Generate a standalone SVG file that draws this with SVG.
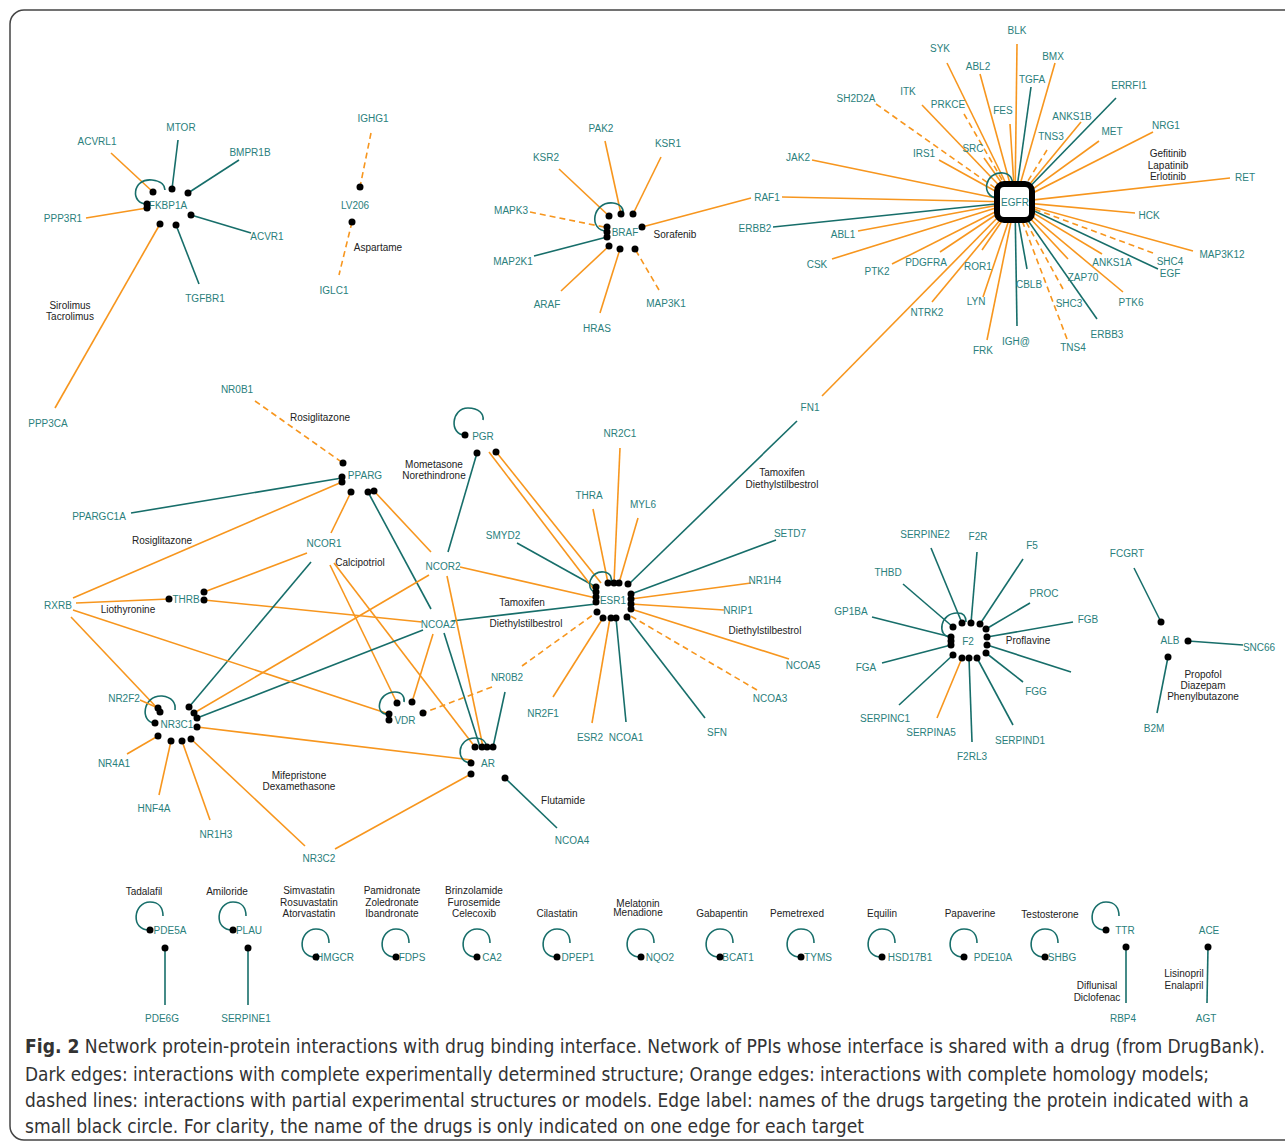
<svg xmlns="http://www.w3.org/2000/svg" xmlns:xlink="http://www.w3.org/1999/xlink" width="1285" height="1145" viewBox="0 0 1285 1145">
<style>
.n{font-family:"Liberation Sans",Arial,sans-serif;font-size:10px;fill:#2a807c;text-anchor:middle;dominant-baseline:central}
.d{font-family:"Liberation Sans",Arial,sans-serif;font-size:10px;fill:#222;text-anchor:middle;dominant-baseline:central}
.o{stroke:#f7961e;stroke-width:1.6;fill:none}
.od{stroke:#f7961e;stroke-width:1.6;fill:none;stroke-dasharray:6 4}
.t{stroke:#176e6a;stroke-width:1.6;fill:none}
.cap{font-family:"Liberation Sans Narrow","DejaVu Sans Condensed","Liberation Sans",sans-serif;font-size:19px;fill:#333}
circle{fill:#000}
</style>
<defs>
<path id="lp" d="M0,0 C-20,1 -17,-28 0,-28 C9,-28 13,-22 13,-14" class="t"/>
</defs>
<rect x="10" y="10" width="1300" height="1130" rx="14" fill="#fff" stroke="#444" stroke-width="1.5"/>

<g id="connectors">
<!-- FKBP1A -->
<line class="t" x1="178" y1="140" x2="172" y2="189"/>
<line class="o" x1="111" y1="153" x2="153" y2="192"/>
<line class="t" x1="239" y1="160" x2="188" y2="193"/>
<line class="o" x1="86" y1="218" x2="147" y2="208"/>
<line class="t" x1="251" y1="233" x2="191" y2="215"/>
<line class="t" x1="199" y1="284" x2="176" y2="225"/>
<line class="o" x1="55" y1="408" x2="160" y2="224"/>
<path class="t" d="M147,204 C130,204 132,178 152,180 C162,181 165,186 165,190"/>
<!-- IGHG1 -->
<line class="od" x1="371" y1="133" x2="360" y2="187"/>
<line class="od" x1="352" y1="222" x2="339" y2="275"/>
<!-- BRAF -->
<line class="o" x1="605" y1="141" x2="621" y2="214"/>
<line class="o" x1="661" y1="157" x2="633" y2="214"/>
<line class="o" x1="559" y1="169" x2="609" y2="216"/>
<line class="od" x1="530" y1="212" x2="604" y2="227"/>
<line class="t" x1="534" y1="256" x2="607" y2="237"/>
<line class="o" x1="561" y1="291" x2="609" y2="246"/>
<line class="o" x1="600" y1="313" x2="620" y2="249"/>
<line class="od" x1="659" y1="290" x2="635" y2="249"/>
<line class="o" x1="642" y1="227" x2="751" y2="198"/>
<path class="t" d="M607,231 C588,231 592,201 613,203 C621,204 624,209 623,214"/>
<!-- EGFR -->
<line class="o" x1="1017" y1="44" x2="1015" y2="202"/>
<line class="o" x1="947" y1="63" x2="1015" y2="202"/>
<line class="o" x1="980" y1="74" x2="1015" y2="202" stroke-width="2.4"/>
<line class="o" x1="1055" y1="63" x2="1015" y2="202" stroke-width="1.2"/>
<line class="t" x1="1031" y1="87" x2="1015" y2="202"/>
<line class="t" x1="1116" y1="98" x2="1015" y2="202"/>
<line class="od" x1="876" y1="104" x2="1015" y2="202"/>
<line class="o" x1="922" y1="105" x2="1015" y2="202"/>
<line class="od" x1="964" y1="114" x2="1015" y2="202"/>
<line class="o" x1="1010" y1="124" x2="1015" y2="202"/>
<line class="o" x1="1081" y1="122" x2="1015" y2="202"/>
<line class="od" x1="1047" y1="150" x2="1015" y2="202"/>
<line class="o" x1="1099" y1="141" x2="1015" y2="202"/>
<line class="o" x1="1153" y1="132" x2="1015" y2="202"/>
<line class="o" x1="939" y1="160" x2="1015" y2="202"/>
<line class="o" x1="984" y1="158" x2="1015" y2="202"/>
<line class="o" x1="812" y1="160" x2="1015" y2="202"/>
<line class="o" x1="1230" y1="178" x2="1015" y2="202"/>
<line class="o" x1="782" y1="197" x2="1015" y2="202"/>
<line class="t" x1="773" y1="227" x2="1015" y2="202"/>
<line class="o" x1="858" y1="231" x2="1015" y2="202"/>
<line class="o" x1="832" y1="259" x2="1015" y2="202"/>
<line class="o" x1="892" y1="264" x2="1015" y2="202"/>
<line class="o" x1="940" y1="252" x2="1015" y2="202"/>
<line class="o" x1="982" y1="250" x2="1015" y2="202"/>
<line class="o" x1="932" y1="302" x2="1015" y2="202"/>
<line class="o" x1="983" y1="297" x2="1015" y2="202"/>
<line class="o" x1="987" y1="340" x2="1015" y2="202"/>
<line class="t" x1="1017" y1="326" x2="1015" y2="202"/>
<line class="t" x1="1027" y1="269" x2="1015" y2="202"/>
<line class="od" x1="1063" y1="289" x2="1015" y2="202"/>
<line class="od" x1="1067" y1="339" x2="1015" y2="202"/>
<line class="o" x1="1068" y1="259" x2="1015" y2="202" stroke-width="2.4"/>
<line class="t" x1="1097" y1="319" x2="1015" y2="202"/>
<line class="o" x1="1123" y1="292" x2="1015" y2="202"/>
<line class="o" x1="1102" y1="254" x2="1015" y2="202"/>
<line class="od" x1="1153" y1="253" x2="1015" y2="202"/>
<line class="t" x1="1158" y1="269" x2="1015" y2="202"/>
<line class="o" x1="1193" y1="251" x2="1015" y2="202"/>
<line class="o" x1="1135" y1="213" x2="1015" y2="202"/>
<line class="o" x1="822" y1="396" x2="1005" y2="210"/>
<path class="t" d="M997,198 C980,196 985,171 1003,173 C1011,174 1013,180 1012,184"/>
<!-- ESR1 -->
<line class="o" x1="620" y1="448" x2="614" y2="583"/>
<line class="o" x1="593" y1="509" x2="608" y2="583"/>
<line class="o" x1="638" y1="518" x2="619" y2="583"/>
<line class="t" x1="517" y1="543" x2="596" y2="587"/>
<line class="o" x1="489" y1="452" x2="596" y2="592"/>
<line class="o" x1="497" y1="453" x2="601" y2="583"/>
<line class="o" x1="460" y1="567" x2="596" y2="598"/>
<line class="t" x1="452" y1="621" x2="596" y2="604"/>
<line class="t" x1="797" y1="421" x2="629" y2="584"/>
<line class="t" x1="776" y1="540" x2="631" y2="594"/>
<line class="o" x1="751" y1="583" x2="631" y2="599"/>
<line class="o" x1="724" y1="610" x2="631" y2="604"/>
<line class="o" x1="789" y1="659" x2="631" y2="609"/>
<line class="od" x1="757" y1="690" x2="629" y2="615"/>
<line class="t" x1="705" y1="718" x2="627" y2="617"/>
<line class="t" x1="626" y1="722" x2="616" y2="618"/>
<line class="o" x1="592" y1="723" x2="610" y2="618"/>
<line class="o" x1="553" y1="697" x2="603" y2="618"/>
<line class="od" x1="522" y1="666" x2="597" y2="612"/>
<path class="t" d="M596,592 C584,590 590,570 604,572 C611,573 612,578 611,582"/>
<!-- PGR -->
<path class="t" d="M465,435 C449,435 451,408 468,408 C479,408 484,414 483,420"/>
<line class="t" x1="477" y1="453" x2="448" y2="552"/>
<!-- PPARG -->
<line class="od" x1="255" y1="401" x2="343" y2="463"/>
<line class="t" x1="131" y1="513" x2="342" y2="478"/>
<line class="o" x1="73" y1="598" x2="342" y2="482"/>
<line class="o" x1="331" y1="533" x2="351" y2="492"/>
<line class="t" x1="368" y1="492" x2="431" y2="609"/>
<line class="o" x1="374" y1="491" x2="431" y2="552"/>
<!-- THRB -->
<line class="o" x1="76" y1="603" x2="169" y2="599"/>
<line class="o" x1="307" y1="553" x2="204" y2="592"/>
<line class="o" x1="204" y1="600" x2="422" y2="622"/>
<!-- NCOR1 / NCOR2 / NCOA2 -->
<line class="t" x1="311" y1="562" x2="189" y2="707"/>
<line class="o" x1="330" y1="565" x2="397" y2="703"/>
<line class="o" x1="334" y1="563" x2="475" y2="747"/>
<line class="o" x1="429" y1="575" x2="194" y2="713"/>
<line class="o" x1="447" y1="576" x2="483" y2="747"/>
<line class="t" x1="423" y1="630" x2="197" y2="718"/>
<line class="t" x1="444" y1="633" x2="480" y2="747"/>
<line class="o" x1="433" y1="634" x2="412" y2="702"/>
<!-- RXRB -->
<line class="o" x1="71" y1="617" x2="159" y2="710"/>
<line class="o" x1="73" y1="610" x2="389" y2="714"/>
<!-- NR3C1 -->
<path class="t" d="M155,723 C140,723 142,695 162,696 C172,697 176,703 175,710"/>
<line class="o" x1="140" y1="700" x2="158" y2="708"/>
<line class="o" x1="127" y1="754" x2="158" y2="736"/>
<line class="o" x1="159" y1="795" x2="171" y2="741"/>
<line class="o" x1="210" y1="820" x2="182" y2="741"/>
<line class="o" x1="305" y1="846" x2="191" y2="739"/>
<line class="o" x1="197" y1="727" x2="472" y2="760"/>
<!-- AR -->
<path class="t" d="M471,763 C455,762 457,738 475,738 C483,738 486,742 486,746"/>
<line class="o" x1="335" y1="849" x2="471" y2="774"/>
<line class="t" x1="505" y1="692" x2="493" y2="747"/>
<line class="t" x1="557" y1="828" x2="505" y2="778"/>
<!-- VDR -->
<path class="t" d="M389,714 C374,716 377,692 395,692 C402,692 405,697 404,702"/>
<line class="od" x1="492" y1="687" x2="423" y2="713"/>
<!-- F2 -->
<path class="t" d="M951,637 C936,637 940,612 958,613 C965,613 966,618 966,622"/>
<line class="t" x1="931" y1="548" x2="962" y2="623"/>
<line class="t" x1="977" y1="552" x2="971" y2="623"/>
<line class="t" x1="1023" y1="559" x2="980" y2="624"/>
<line class="t" x1="1030" y1="603" x2="986" y2="629"/>
<line class="t" x1="1073" y1="622" x2="987" y2="637"/>
<line class="t" x1="903" y1="584" x2="953" y2="627"/>
<line class="t" x1="872" y1="617" x2="951" y2="637"/>
<line class="t" x1="882" y1="663" x2="951" y2="645"/>
<line class="t" x1="1071" y1="672" x2="987" y2="645"/>
<line class="t" x1="1023" y1="682" x2="986" y2="653"/>
<line class="t" x1="899" y1="705" x2="953" y2="655"/>
<line class="o" x1="937" y1="718" x2="962" y2="658"/>
<line class="t" x1="972" y1="742" x2="969" y2="658"/>
<line class="t" x1="1013" y1="725" x2="977" y2="658"/>
<!-- ALB -->
<line class="t" x1="1134" y1="568" x2="1161" y2="622"/>
<line class="t" x1="1188" y1="641" x2="1243" y2="645"/>
<line class="t" x1="1157" y1="713" x2="1168" y2="657"/>
<!-- bottom row -->
<use xlink:href="#lp" x="150" y="930"/>
<use xlink:href="#lp" x="233" y="930"/>
<use xlink:href="#lp" x="316" y="957"/>
<use xlink:href="#lp" x="396" y="957"/>
<use xlink:href="#lp" x="477" y="957"/>
<use xlink:href="#lp" x="557" y="957"/>
<use xlink:href="#lp" x="641" y="957"/>
<use xlink:href="#lp" x="720" y="957"/>
<use xlink:href="#lp" x="801" y="957"/>
<use xlink:href="#lp" x="882" y="957"/>
<use xlink:href="#lp" x="964" y="957"/>
<use xlink:href="#lp" x="1045" y="957"/>
<use xlink:href="#lp" x="1106" y="930"/>
<line class="t" x1="165" y1="948" x2="165" y2="1005"/>
<line class="t" x1="248" y1="948" x2="248" y2="1005"/>
<line class="t" x1="1126" y1="947" x2="1126" y2="1003"/>
<line class="t" x1="1208" y1="947" x2="1207" y2="1003"/>
</g>

<!-- drug labels -->
<g id="drugs">
<text class="d" x="70" y="305">Sirolimus</text><text class="d" x="70" y="316">Tacrolimus</text>
<text class="d" x="378" y="247">Aspartame</text>
<text class="d" x="675" y="234">Sorafenib</text>
<text class="d" x="1168" y="153">Gefitinib</text><text class="d" x="1168" y="165">Lapatinib</text><text class="d" x="1168" y="176">Erlotinib</text>
<text class="d" x="320" y="417">Rosiglitazone</text>
<text class="d" x="434" y="464">Mometasone</text><text class="d" x="434" y="475">Norethindrone</text>
<text class="d" x="162" y="540">Rosiglitazone</text>
<text class="d" x="360" y="562">Calcipotriol</text>
<text class="d" x="128" y="609">Liothyronine</text>
<text class="d" x="522" y="602">Tamoxifen</text><text class="d" x="526" y="623">Diethylstilbestrol</text>
<text class="d" x="782" y="472">Tamoxifen</text><text class="d" x="782" y="484">Diethylstilbestrol</text>
<text class="d" x="765" y="630">Diethylstilbestrol</text>
<text class="d" x="1028" y="640">Proflavine</text>
<text class="d" x="1203" y="674">Propofol</text><text class="d" x="1203" y="685">Diazepam</text><text class="d" x="1203" y="696">Phenylbutazone</text>
<text class="d" x="299" y="775">Mifepristone</text><text class="d" x="299" y="786">Dexamethasone</text>
<text class="d" x="563" y="800">Flutamide</text>
<text class="d" x="144" y="891">Tadalafil</text>
<text class="d" x="227" y="891">Amiloride</text>
<text class="d" x="309" y="890">Simvastatin</text><text class="d" x="309" y="902">Rosuvastatin</text><text class="d" x="309" y="913">Atorvastatin</text>
<text class="d" x="392" y="890">Pamidronate</text><text class="d" x="392" y="902">Zoledronate</text><text class="d" x="392" y="913">Ibandronate</text>
<text class="d" x="474" y="890">Brinzolamide</text><text class="d" x="474" y="902">Furosemide</text><text class="d" x="474" y="913">Celecoxib</text>
<text class="d" x="557" y="913">Cilastatin</text>
<text class="d" x="638" y="903">Melatonin</text><text class="d" x="638" y="912">Menadione</text>
<text class="d" x="722" y="913">Gabapentin</text>
<text class="d" x="797" y="913">Pemetrexed</text>
<text class="d" x="882" y="913">Equilin</text>
<text class="d" x="970" y="913">Papaverine</text>
<text class="d" x="1050" y="914">Testosterone</text>
<text class="d" x="1097" y="985">Diflunisal</text><text class="d" x="1097" y="997">Diclofenac</text>
<text class="d" x="1184" y="973">Lisinopril</text><text class="d" x="1184" y="985">Enalapril</text>
</g>

<!-- nodes -->
<g id="n-FKBP1A"><text class="n" x="168" y="205">FKBP1A</text>
<circle cx="153" cy="192" r="3.5"/><circle cx="172" cy="189" r="3.5"/><circle cx="188" cy="193" r="3.5"/><circle cx="147" cy="204" r="3.5"/><circle cx="147" cy="208" r="3.5"/><circle cx="191" cy="215" r="3.5"/><circle cx="160" cy="224" r="3.5"/><circle cx="176" cy="225" r="3.5"/></g>
<g id="n-MTOR"><text class="n" x="181" y="127">MTOR</text></g>
<g id="n-ACVRL1"><text class="n" x="97" y="141">ACVRL1</text></g>
<g id="n-BMPR1B"><text class="n" x="250" y="152">BMPR1B</text></g>
<g id="n-PPP3R1"><text class="n" x="63" y="218">PPP3R1</text></g>
<g id="n-ACVR1"><text class="n" x="267" y="236">ACVR1</text></g>
<g id="n-TGFBR1"><text class="n" x="205" y="298">TGFBR1</text></g>
<g id="n-PPP3CA"><text class="n" x="48" y="423">PPP3CA</text></g>
<g id="n-IGHG1"><text class="n" x="373" y="118">IGHG1</text></g>
<g id="n-LV206"><text class="n" x="355" y="205">LV206</text><circle cx="360" cy="187" r="3.5"/><circle cx="352" cy="222" r="3.5"/></g>
<g id="n-IGLC1"><text class="n" x="334" y="290">IGLC1</text></g>
<g id="n-BRAF"><text class="n" x="625" y="232">BRAF</text>
<circle cx="609" cy="216" r="3.5"/><circle cx="621" cy="214" r="3.5"/><circle cx="633" cy="214" r="3.5"/><circle cx="607" cy="227" r="3.5"/><circle cx="607" cy="232" r="3.5"/><circle cx="607" cy="237" r="3.5"/><circle cx="642" cy="227" r="3.5"/><circle cx="609" cy="246" r="3.5"/><circle cx="620" cy="249" r="3.5"/><circle cx="635" cy="249" r="3.5"/></g>
<g id="n-PAK2"><text class="n" x="601" y="128">PAK2</text></g>
<g id="n-KSR1"><text class="n" x="668" y="143">KSR1</text></g>
<g id="n-KSR2"><text class="n" x="546" y="157">KSR2</text></g>
<g id="n-MAPK3"><text class="n" x="511" y="210">MAPK3</text></g>
<g id="n-MAP2K1"><text class="n" x="513" y="261">MAP2K1</text></g>
<g id="n-ARAF"><text class="n" x="547" y="304">ARAF</text></g>
<g id="n-HRAS"><text class="n" x="597" y="328">HRAS</text></g>
<g id="n-MAP3K1"><text class="n" x="666" y="303">MAP3K1</text></g>
<g id="n-RAF1"><text class="n" x="767" y="197">RAF1</text></g>
<g id="n-EGFR"><rect x="997" y="184" width="35" height="36" rx="7" fill="#fff" stroke="#000" stroke-width="6"/><text class="n" x="1015" y="202">EGFR</text></g>
<g id="n-BLK"><text class="n" x="1017" y="30">BLK</text></g>
<g id="n-SYK"><text class="n" x="940" y="48">SYK</text></g>
<g id="n-ABL2"><text class="n" x="978" y="66">ABL2</text></g>
<g id="n-BMX"><text class="n" x="1053" y="56">BMX</text></g>
<g id="n-TGFA"><text class="n" x="1032" y="79">TGFA</text></g>
<g id="n-ERRFI1"><text class="n" x="1129" y="85">ERRFI1</text></g>
<g id="n-SH2D2A"><text class="n" x="856" y="98">SH2D2A</text></g>
<g id="n-ITK"><text class="n" x="908" y="91">ITK</text></g>
<g id="n-PRKCE"><text class="n" x="948" y="104">PRKCE</text></g>
<g id="n-FES"><text class="n" x="1003" y="110">FES</text></g>
<g id="n-ANKS1B"><text class="n" x="1072" y="116">ANKS1B</text></g>
<g id="n-TNS3"><text class="n" x="1051" y="136">TNS3</text></g>
<g id="n-MET"><text class="n" x="1112" y="131">MET</text></g>
<g id="n-NRG1"><text class="n" x="1166" y="125">NRG1</text></g>
<g id="n-IRS1"><text class="n" x="924" y="153">IRS1</text></g>
<g id="n-SRC"><text class="n" x="973" y="148">SRC</text></g>
<g id="n-JAK2"><text class="n" x="798" y="157">JAK2</text></g>
<g id="n-RET"><text class="n" x="1245" y="177">RET</text></g>
<g id="n-ERBB2"><text class="n" x="755" y="228">ERBB2</text></g>
<g id="n-ABL1"><text class="n" x="843" y="234">ABL1</text></g>
<g id="n-CSK"><text class="n" x="817" y="264">CSK</text></g>
<g id="n-PTK2"><text class="n" x="877" y="271">PTK2</text></g>
<g id="n-PDGFRA"><text class="n" x="926" y="262">PDGFRA</text></g>
<g id="n-ROR1"><text class="n" x="978" y="266">ROR1</text></g>
<g id="n-NTRK2"><text class="n" x="927" y="312">NTRK2</text></g>
<g id="n-LYN"><text class="n" x="976" y="301">LYN</text></g>
<g id="n-FRK"><text class="n" x="983" y="350">FRK</text></g>
<g id="n-IGH"><text class="n" x="1016" y="341">IGH@</text></g>
<g id="n-CBLB"><text class="n" x="1029" y="284">CBLB</text></g>
<g id="n-SHC3"><text class="n" x="1069" y="303">SHC3</text></g>
<g id="n-TNS4"><text class="n" x="1073" y="347">TNS4</text></g>
<g id="n-ZAP70"><text class="n" x="1083" y="277">ZAP70</text></g>
<g id="n-ERBB3"><text class="n" x="1107" y="334">ERBB3</text></g>
<g id="n-PTK6"><text class="n" x="1131" y="302">PTK6</text></g>
<g id="n-ANKS1A"><text class="n" x="1112" y="262">ANKS1A</text></g>
<g id="n-SHC4"><text class="n" x="1170" y="261">SHC4</text></g>
<g id="n-EGF"><text class="n" x="1170" y="273">EGF</text></g>
<g id="n-MAP3K12"><text class="n" x="1222" y="254">MAP3K12</text></g>
<g id="n-HCK"><text class="n" x="1149" y="215">HCK</text></g>
<g id="n-FN1"><text class="n" x="810" y="407">FN1</text></g>
<g id="n-NR0B1"><text class="n" x="237" y="389">NR0B1</text></g>
<g id="n-PPARG"><text class="n" x="365" y="475">PPARG</text>
<circle cx="343" cy="463" r="3.5"/><circle cx="342" cy="477" r="3.5"/><circle cx="342" cy="482" r="3.5"/><circle cx="351" cy="492" r="3.5"/><circle cx="368" cy="492" r="3.5"/><circle cx="374" cy="491" r="3.5"/></g>
<g id="n-PGR"><text class="n" x="483" y="436">PGR</text><circle cx="465" cy="435" r="3.5"/><circle cx="477" cy="453" r="3.5"/><circle cx="496" cy="452" r="3.5"/></g>
<g id="n-PPARGC1A"><text class="n" x="99" y="516">PPARGC1A</text></g>
<g id="n-NCOR1"><text class="n" x="324" y="543">NCOR1</text></g>
<g id="n-NCOR2"><text class="n" x="443" y="566">NCOR2</text></g>
<g id="n-RXRB"><text class="n" x="58" y="605">RXRB</text></g>
<g id="n-THRB"><text class="n" x="186" y="599">THRB</text><circle cx="169" cy="599" r="3.5"/><circle cx="204" cy="592" r="3.5"/><circle cx="204" cy="600" r="3.5"/></g>
<g id="n-NCOA2"><text class="n" x="438" y="624">NCOA2</text></g>
<g id="n-NR2C1"><text class="n" x="620" y="433">NR2C1</text></g>
<g id="n-THRA"><text class="n" x="589" y="495">THRA</text></g>
<g id="n-MYL6"><text class="n" x="643" y="504">MYL6</text></g>
<g id="n-SMYD2"><text class="n" x="503" y="535">SMYD2</text></g>
<g id="n-ESR1"><text class="n" x="613" y="600">ESR1</text>
<circle cx="608" cy="583" r="3.5"/><circle cx="614" cy="583" r="3.5"/><circle cx="619" cy="583" r="3.5"/><circle cx="628" cy="584" r="3.5"/>
<circle cx="596" cy="587" r="3.5"/><circle cx="596" cy="592" r="3.5"/><circle cx="596" cy="597" r="3.5"/><circle cx="596" cy="602" r="3.5"/>
<circle cx="631" cy="594" r="3.5"/><circle cx="631" cy="599" r="3.5"/><circle cx="631" cy="604" r="3.5"/><circle cx="631" cy="609" r="3.5"/>
<circle cx="597" cy="612" r="3.5"/><circle cx="603" cy="618" r="3.5"/><circle cx="611" cy="618" r="3.5"/><circle cx="616" cy="618" r="3.5"/><circle cx="627" cy="617" r="3.5"/></g>
<g id="n-SETD7"><text class="n" x="790" y="533">SETD7</text></g>
<g id="n-NR1H4"><text class="n" x="765" y="580">NR1H4</text></g>
<g id="n-NRIP1"><text class="n" x="738" y="610">NRIP1</text></g>
<g id="n-NCOA5"><text class="n" x="803" y="665">NCOA5</text></g>
<g id="n-NCOA3"><text class="n" x="770" y="698">NCOA3</text></g>
<g id="n-SFN"><text class="n" x="717" y="732">SFN</text></g>
<g id="n-NCOA1"><text class="n" x="626" y="737">NCOA1</text></g>
<g id="n-ESR2"><text class="n" x="590" y="737">ESR2</text></g>
<g id="n-NR2F1"><text class="n" x="543" y="713">NR2F1</text></g>
<g id="n-NR0B2"><text class="n" x="507" y="677">NR0B2</text></g>
<g id="n-VDR"><text class="n" x="405" y="720">VDR</text><circle cx="397" cy="703" r="3.5"/><circle cx="412" cy="702" r="3.5"/><circle cx="389" cy="714" r="3.5"/><circle cx="389" cy="720" r="3.5"/><circle cx="423" cy="713" r="3.5"/></g>
<g id="n-NR2F2"><text class="n" x="124" y="698">NR2F2</text></g>
<g id="n-NR3C1"><text class="n" x="177" y="724">NR3C1</text>
<circle cx="158" cy="708" r="3.5"/><circle cx="160" cy="712" r="3.5"/><circle cx="155" cy="723" r="3.5"/><circle cx="158" cy="736" r="3.5"/><circle cx="171" cy="741" r="3.5"/><circle cx="182" cy="741" r="3.5"/><circle cx="191" cy="739" r="3.5"/><circle cx="189" cy="707" r="3.5"/><circle cx="194" cy="713" r="3.5"/><circle cx="197" cy="718" r="3.5"/><circle cx="197" cy="727" r="3.5"/></g>
<g id="n-NR4A1"><text class="n" x="114" y="763">NR4A1</text></g>
<g id="n-HNF4A"><text class="n" x="154" y="808">HNF4A</text></g>
<g id="n-NR1H3"><text class="n" x="216" y="834">NR1H3</text></g>
<g id="n-NR3C2"><text class="n" x="319" y="858">NR3C2</text></g>
<g id="n-AR"><text class="n" x="488" y="763">AR</text>
<circle cx="471" cy="763" r="3.5"/><circle cx="471" cy="774" r="3.5"/><circle cx="475" cy="747" r="3.5"/><circle cx="482" cy="747" r="3.5"/><circle cx="487" cy="747" r="3.5"/><circle cx="493" cy="747" r="3.5"/><circle cx="505" cy="778" r="3.5"/></g>
<g id="n-NCOA4"><text class="n" x="572" y="840">NCOA4</text></g>
<g id="n-F2"><text class="n" x="968" y="641">F2</text>
<circle cx="962" cy="623" r="3.5"/><circle cx="971" cy="623" r="3.5"/><circle cx="980" cy="624" r="3.5"/><circle cx="953" cy="627" r="3.5"/>
<circle cx="951" cy="637" r="3.5"/><circle cx="951" cy="641" r="3.5"/><circle cx="951" cy="645" r="3.5"/>
<circle cx="986" cy="629" r="3.5"/><circle cx="987" cy="637" r="3.5"/><circle cx="987" cy="645" r="3.5"/><circle cx="986" cy="653" r="3.5"/>
<circle cx="953" cy="655" r="3.5"/><circle cx="962" cy="658" r="3.5"/><circle cx="969" cy="658" r="3.5"/><circle cx="977" cy="658" r="3.5"/></g>
<g id="n-SERPINE2"><text class="n" x="925" y="534">SERPINE2</text></g>
<g id="n-F2R"><text class="n" x="978" y="536">F2R</text></g>
<g id="n-F5"><text class="n" x="1032" y="545">F5</text></g>
<g id="n-THBD"><text class="n" x="888" y="572">THBD</text></g>
<g id="n-PROC"><text class="n" x="1044" y="593">PROC</text></g>
<g id="n-GP1BA"><text class="n" x="851" y="611">GP1BA</text></g>
<g id="n-FGB"><text class="n" x="1088" y="619">FGB</text></g>
<g id="n-FGA"><text class="n" x="866" y="667">FGA</text></g>
<g id="n-FGG"><text class="n" x="1036" y="691">FGG</text></g>
<g id="n-SERPINC1"><text class="n" x="885" y="718">SERPINC1</text></g>
<g id="n-SERPINA5"><text class="n" x="931" y="732">SERPINA5</text></g>
<g id="n-F2RL3"><text class="n" x="972" y="756">F2RL3</text></g>
<g id="n-SERPIND1"><text class="n" x="1020" y="740">SERPIND1</text></g>
<g id="n-ALB"><text class="n" x="1170" y="640">ALB</text><circle cx="1161" cy="622" r="3.5"/><circle cx="1188" cy="641" r="3.5"/><circle cx="1168" cy="657" r="3.5"/></g>
<g id="n-FCGRT"><text class="n" x="1127" y="553">FCGRT</text></g>
<g id="n-SNC66"><text class="n" x="1259" y="647">SNC66</text></g>
<g id="n-B2M"><text class="n" x="1154" y="728">B2M</text></g>
<g id="n-PDE5A"><text class="n" x="170" y="930">PDE5A</text><circle cx="150" cy="930" r="3.5"/><circle cx="165" cy="948" r="3.5"/></g>
<g id="n-PLAU"><text class="n" x="249" y="930">PLAU</text><circle cx="233" cy="930" r="3.5"/><circle cx="248" cy="948" r="3.5"/></g>
<g id="n-HMGCR"><text class="n" x="335" y="957">HMGCR</text><circle cx="316" cy="957" r="3.5"/></g>
<g id="n-FDPS"><text class="n" x="412" y="957">FDPS</text><circle cx="396" cy="957" r="3.5"/></g>
<g id="n-CA2"><text class="n" x="492" y="957">CA2</text><circle cx="477" cy="957" r="3.5"/></g>
<g id="n-DPEP1"><text class="n" x="578" y="957">DPEP1</text><circle cx="557" cy="957" r="3.5"/></g>
<g id="n-NQO2"><text class="n" x="660" y="957">NQO2</text><circle cx="641" cy="957" r="3.5"/></g>
<g id="n-BCAT1"><text class="n" x="738" y="957">BCAT1</text><circle cx="720" cy="957" r="3.5"/></g>
<g id="n-TYMS"><text class="n" x="818" y="957">TYMS</text><circle cx="801" cy="957" r="3.5"/></g>
<g id="n-HSD17B1"><text class="n" x="910" y="957">HSD17B1</text><circle cx="882" cy="957" r="3.5"/></g>
<g id="n-PDE10A"><text class="n" x="993" y="957">PDE10A</text><circle cx="964" cy="957" r="3.5"/></g>
<g id="n-SHBG"><text class="n" x="1062" y="957">SHBG</text><circle cx="1045" cy="957" r="3.5"/></g>
<g id="n-TTR"><text class="n" x="1125" y="930">TTR</text><circle cx="1106" cy="930" r="3.5"/><circle cx="1126" cy="947" r="3.5"/></g>
<g id="n-ACE"><text class="n" x="1209" y="930">ACE</text><circle cx="1208" cy="947" r="3.5"/></g>
<g id="n-PDE6G"><text class="n" x="162" y="1018">PDE6G</text></g>
<g id="n-SERPINE1"><text class="n" x="246" y="1018">SERPINE1</text></g>
<g id="n-RBP4"><text class="n" x="1123" y="1018">RBP4</text></g>
<g id="n-AGT"><text class="n" x="1206" y="1018">AGT</text></g>

<g id="caption">
<text class="cap" x="25" y="1053" textLength="1240" lengthAdjust="spacingAndGlyphs"><tspan font-weight="bold">Fig. 2</tspan> Network protein-protein interactions with drug binding interface. Network of PPIs whose interface is shared with a drug (from DrugBank).</text>
<text class="cap" x="25" y="1081" textLength="1184" lengthAdjust="spacingAndGlyphs">Dark edges: interactions with complete experimentally determined structure; Orange edges: interactions with complete homology models;</text>
<text class="cap" x="25" y="1107" textLength="1224" lengthAdjust="spacingAndGlyphs">dashed lines: interactions with partial experimental structures or models. Edge label: names of the drugs targeting the protein indicated with a</text>
<text class="cap" x="25" y="1133" textLength="839" lengthAdjust="spacingAndGlyphs">small black circle. For clarity, the name of the drugs is only indicated on one edge for each target</text>
</g>
</svg>
